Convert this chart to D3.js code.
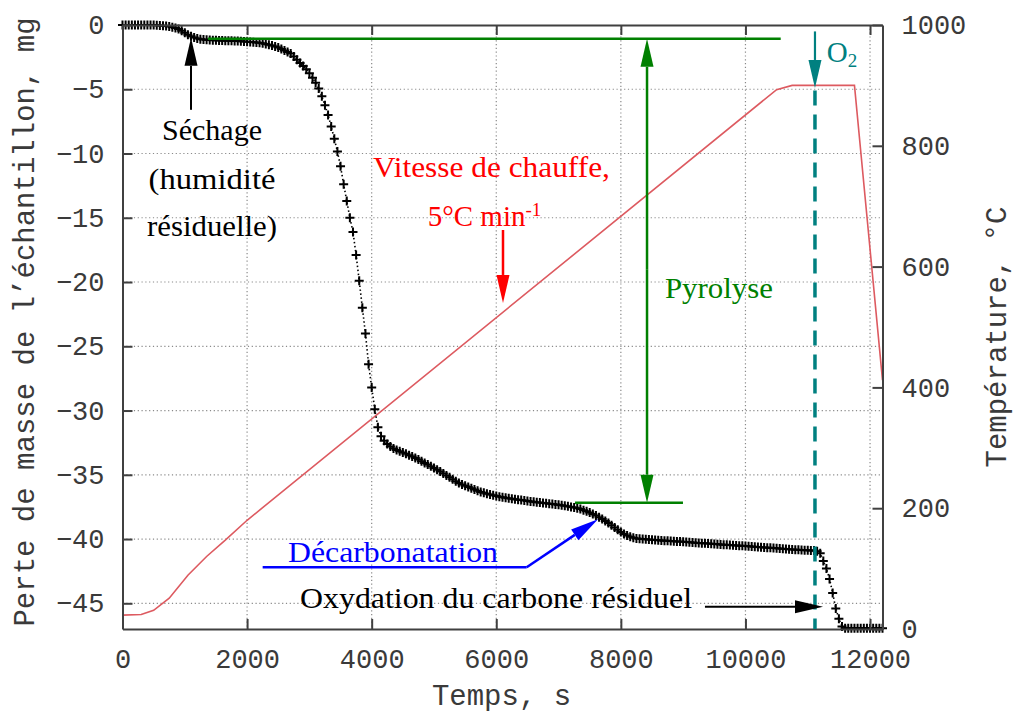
<!DOCTYPE html>
<html>
<head>
<meta charset="utf-8">
<script src="https://cdn.jsdelivr.net/npm/d3@7"></script>
<style>
	html, body { margin: 0; padding: 0; background: #fff; }
	svg { display: block; }
	.tick text { font-family: "Liberation Mono", monospace; font-size: 27px; fill: #3a3a3a; }
	.axis-title { font-family: "Liberation Mono", monospace; font-size: 29px; fill: #3a3a3a; }
	.note { font-family: "Liberation Serif", serif; font-size: 29px; }
</style>
</head>
<body>
<svg id="chart" width="1014" height="715"></svg>
<script>

// Data
// ==============================================

var timeStep = 50; // s between two mass readings

// mass loss, mg (one reading every timeStep, from 0 s to 12200 s)
var massLoss = [
	0, 0, 0, 0, 0, 0, 0, 0, 0, 0,
	0, -0.01, -0.03, -0.05, -0.08, -0.12, -0.17, -0.23, -0.32, -0.45,
	-0.6, -0.75, -0.88, -0.98, -1.05, -1.1, -1.13, -1.15, -1.17, -1.18,
	-1.19, -1.2, -1.21, -1.22, -1.22, -1.23, -1.24, -1.25, -1.27, -1.28,
	-1.3, -1.32, -1.34, -1.36, -1.38, -1.42, -1.47, -1.53, -1.6, -1.67,
	-1.75, -1.86, -1.98, -2.1, -2.22, -2.45, -2.7, -2.95, -3.2, -3.45,
	-3.75, -4.1, -4.5, -4.95, -5.55, -6.25, -7.0, -7.9, -8.85, -9.85,
	-11.0, -12.4, -13.7, -15.0, -16.1, -17.9, -19.9, -22.0, -24.0, -26.4,
	-28.2, -29.9, -31.3, -32.0, -32.35, -32.6, -32.8, -32.95, -33.07, -33.17,
	-33.27, -33.37, -33.47, -33.58, -33.7, -33.82, -33.95, -34.08, -34.2, -34.33,
	-34.47, -34.6, -34.75, -34.9, -35.05, -35.2, -35.35, -35.5, -35.63, -35.75,
	-35.85, -35.95, -36.05, -36.15, -36.25, -36.33, -36.4, -36.47, -36.53, -36.6,
	-36.65, -36.7, -36.75, -36.79, -36.83, -36.87, -36.9, -36.94, -36.97, -37.0,
	-37.04, -37.07, -37.1, -37.13, -37.16, -37.19, -37.22, -37.25, -37.28, -37.31,
	-37.34, -37.37, -37.41, -37.45, -37.5, -37.55, -37.6, -37.67, -37.75, -37.84,
	-37.94, -38.05, -38.17, -38.3, -38.45, -38.6, -38.75, -38.92, -39.1, -39.28,
	-39.45, -39.6, -39.73, -39.83, -39.9, -39.95, -39.98, -40.0, -40.02, -40.04,
	-40.06, -40.08, -40.1, -40.11, -40.13, -40.14, -40.16, -40.17, -40.19, -40.2,
	-40.22, -40.23, -40.25, -40.27, -40.28, -40.3, -40.32, -40.33, -40.35, -40.37,
	-40.39, -40.4, -40.42, -40.44, -40.45, -40.47, -40.49, -40.5, -40.52, -40.53,
	-40.55, -40.57, -40.58, -40.6, -40.62, -40.63, -40.65, -40.67, -40.68, -40.7,
	-40.72, -40.74, -40.76, -40.78, -40.8, -40.81, -40.83, -40.84, -40.86, -40.87,
	-40.88, -40.89, -40.9, -40.95, -41.1, -41.7, -42.3, -43.1, -44.2, -45.4,
	-46.2, -46.8, -46.95, -46.95, -46.95, -46.95, -46.95, -46.95, -46.95, -46.95,
	-46.95, -46.95, -46.95, -46.95, -46.95
];

// furnace temperature programme, °C
var tempTime  = [0, 300, 500, 750, 1050, 1350, 1650, 2000, 10500, 10750, 11750, 12200];
var tempValue = [23, 24, 31, 51, 89, 120, 147, 180, 893, 900, 900, 412];

var timeTicks = [0, 2000, 4000, 6000, 8000, 10000, 12000];
var massTicks = [0, -5, -10, -15, -20, -25, -30, -35, -40, -45];
var tempTicks = [0, 200, 400, 600, 800, 1000];

var massPoints = massLoss.map(function(m, i){ return {t: i * timeStep, m: m}; });
var tempPoints = tempTime.map(function(t, i){ return {t: t, T: tempValue[i]}; });

// Layout
// ==============================================

var svg = d3.select("#chart"),
	margin = {top: 25, right: 131.5, bottom: 86, left: 122.5},
	width = 1014 - margin.left - margin.right,
	height = 715 - margin.top - margin.bottom;

var g = svg.append("g")
	.attr("transform", "translate(" + margin.left + "," + margin.top + ")");

var xScale = d3.scaleLinear().domain([0, 12200]).range([0, width]),
	yMass = d3.scaleLinear().domain([-47, 0]).range([height, 0]),
	yTemp = d3.scaleLinear().domain([0, 1000]).range([height, 0]);

var axisColor = "#404040";

// Grid
// ==============================================

var grid = g.append("g").attr("class", "grid")
	.attr("stroke", "#8a8a8a")
	.attr("stroke-width", 1.2)
	.attr("stroke-dasharray", "1.2,2.6");

grid.selectAll("line.h")
	.data(massTicks.filter(function(d){ return d !== 0; }))
	.enter().append("line")
		.attr("class", "h")
		.attr("x1", 0).attr("x2", width)
		.attr("y1", function(d){ return yMass(d); })
		.attr("y2", function(d){ return yMass(d); });

grid.selectAll("line.v")
	.data(timeTicks.filter(function(d){ return d !== 0; }))
	.enter().append("line")
		.attr("class", "v")
		.attr("y1", 0).attr("y2", height)
		.attr("x1", function(d){ return xScale(d); })
		.attr("x2", function(d){ return xScale(d); });

// Temperature line
// ==============================================

g.append("path")
	.datum(tempPoints)
	.attr("fill", "none")
	.attr("stroke", "#dd5a60")
	.attr("stroke-width", 1.6)
	.attr("d", d3.line()
		.x(function(d){ return xScale(d.t); })
		.y(function(d){ return yTemp(d.T); }));

// Mass loss (dotted joining line + markers)
// ==============================================

g.append("path")
	.datum(massPoints)
	.attr("fill", "none")
	.attr("stroke", "#000")
	.attr("stroke-width", 1.6)
	.attr("stroke-dasharray", "1.5,2.5")
	.attr("d", d3.line()
		.x(function(d){ return xScale(d.t); })
		.y(function(d){ return yMass(d.m); }));

g.append("g").attr("class", "mass")
	.selectAll("path")
	.data(massPoints)
	.enter().append("path")
		.attr("transform", function(d){ return "translate(" + xScale(d.t) + "," + yMass(d.m) + ")"; })
		.attr("d", "M-4.5,0H4.5M0,-4.5V4.5")
		.attr("stroke", "#000")
		.attr("stroke-width", 2)
		.attr("fill", "none");

// Axes
// ==============================================

function styleAxis(sel){
	sel.select(".domain").attr("stroke", axisColor).attr("stroke-width", 2);
	sel.selectAll(".tick line").attr("stroke", axisColor).attr("stroke-width", 2);
}

g.append("g")
	.attr("transform", "translate(0," + height + ")")
	.call(d3.axisBottom(xScale).tickValues(timeTicks).tickFormat(d3.format("d"))
		.tickSizeInner(-10).tickSizeOuter(0).tickPadding(20))
	.call(styleAxis);

g.append("g")
	.call(d3.axisTop(xScale).tickValues(timeTicks).tickFormat("")
		.tickSizeInner(-10).tickSizeOuter(0))
	.call(styleAxis);

g.append("g")
	.call(d3.axisLeft(yMass).tickValues(massTicks).tickFormat(d3.format("d"))
		.tickSizeInner(-10).tickSizeOuter(0).tickPadding(18))
	.call(styleAxis);

g.append("g")
	.attr("transform", "translate(" + width + ",0)")
	.call(d3.axisRight(yTemp).tickValues(tempTicks).tickFormat(d3.format("d"))
		.tickSizeInner(-10).tickSizeOuter(0).tickPadding(19))
	.call(styleAxis);

// Axis titles
// ==============================================

svg.append("text")
	.attr("class", "axis-title")
	.attr("x", margin.left + width / 2 - 1)
	.attr("y", 705)
	.attr("text-anchor", "middle")
	.text("Temps, s");

svg.append("text")
	.attr("class", "axis-title")
	.attr("transform", "translate(34,322) rotate(-90)")
	.attr("text-anchor", "middle")
	.text("Perte de masse de l\u2019\u00e9chantillon, mg");

svg.append("text")
	.attr("class", "axis-title")
	.attr("transform", "translate(1006,337) rotate(-90)")
	.attr("text-anchor", "middle")
	.text("Temp\u00e9rature, \u00b0C");

// Annotations
// ==============================================

var notes = g.append("g").attr("class", "notes");

function arrow(t1, m1, t2, m2, color, w){
	var x1 = xScale(t1), y1 = yMass(m1), x2 = xScale(t2), y2 = yMass(m2);
	var dx = x2 - x1, dy = y2 - y1, len = Math.sqrt(dx * dx + dy * dy),
		ux = dx / len, uy = dy / len, hl = 28, hw = 6.5,
		bx = x2 - ux * hl, by = y2 - uy * hl;
	notes.append("line")
		.attr("x1", x1).attr("y1", y1).attr("x2", bx).attr("y2", by)
		.attr("stroke", color).attr("stroke-width", w);
	notes.append("path")
		.attr("d", "M" + x2 + "," + y2 +
			"L" + (bx - uy * hw) + "," + (by + ux * hw) +
			"L" + (bx + uy * hw) + "," + (by - ux * hw) + "Z")
		.attr("fill", color);
}

function segment(t1, m1, t2, m2, color, w){
	notes.append("line")
		.attr("x1", xScale(t1)).attr("y1", yMass(m1))
		.attr("x2", xScale(t2)).attr("y2", yMass(m2))
		.attr("stroke", color).attr("stroke-width", w);
}

function label(t, m, txt, color, anchor, len){
	var el = notes.append("text")
		.attr("class", "note")
		.attr("x", xScale(t)).attr("y", yMass(m))
		.attr("fill", color)
		.attr("text-anchor", anchor || "start")
		.text(txt);
	if (len) el.attr("textLength", len).attr("lengthAdjust", "spacingAndGlyphs");
	return el;
}

// Séchage
arrow(1100, -6.6, 1100, -1.0, "#000", 2);
label(1437, -8.95, "S\u00e9chage", "#000", "middle", 100);
label(1437, -12.76, "(humidit\u00e9", "#000", "middle", 127);
label(1437, -16.42, "r\u00e9siduelle)", "#000", "middle", 130);

// Vitesse de chauffe
label(5923, -11.8, "Vitesse de chauffe,", "#ff0000", "middle", 237);
var rate = label(5811, -15.64, "5\u00b0C min", "#ff0000", "middle");
rate.append("tspan").attr("dy", -10).attr("font-size", 19).text("-1");
arrow(6108, -15.95, 6108, -21.63, "#ff0000", 2.5);

// Pyrolyse
segment(1373, -1.07, 10566, -1.07, "#008000", 2.5);
segment(7264, -37.17, 8997, -37.17, "#008000", 2.5);
arrow(8420, -19, 8420, -1.07, "#008000", 2.5);
arrow(8420, -19, 8420, -37.17, "#008000", 2.5);
label(8708, -21.24, "Pyrolyse", "#008000", "start", 108);

// O2
notes.append("line")
	.attr("x1", xScale(11116)).attr("x2", xScale(11116))
	.attr("y1", yMass(-5.1)).attr("y2", yMass(-47))
	.attr("stroke", "#008080").attr("stroke-width", 3.5)
	.attr("stroke-dasharray", "15,9");
arrow(11116, -0.5, 11116, -4.9, "#008080", 2.2);
var o2 = label(11304, -2.9, "O", "#008080", "start");
o2.append("tspan").attr("dy", 5).attr("font-size", 19).text("2");

// Décarbonatation
label(2657, -41.79, "D\u00e9carbonatation", "#0000ff", "start", 210);
segment(2250, -42.2, 6488, -42.2, "#0000ff", 2.5);
arrow(6488, -42.2, 7633, -38.46, "#0000ff", 2.5);

// Oxydation
label(2850, -45.36, "Oxydation du carbone r\u00e9siduel", "#000", "start", 392);
arrow(9350, -45.27, 11245, -45.27, "#000", 2);

</script>
</body>
</html>
